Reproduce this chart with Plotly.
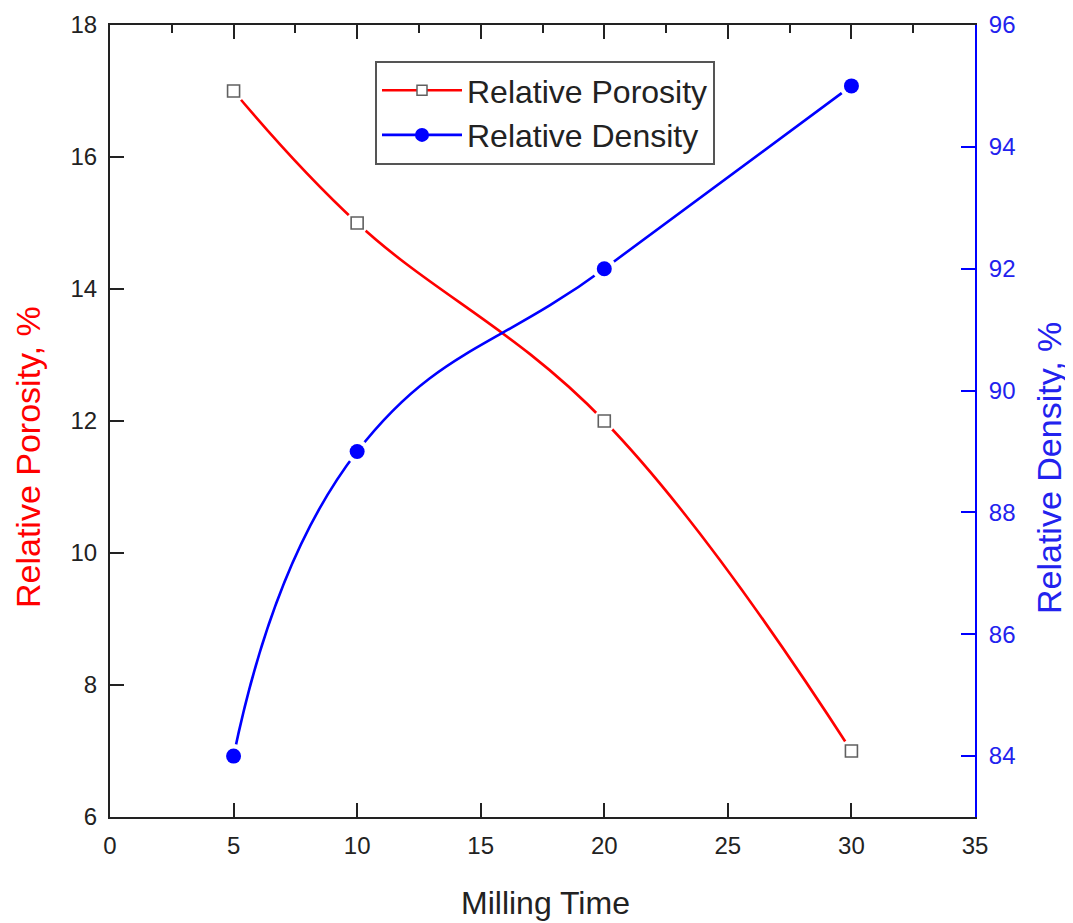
import plotly.graph_objects as go

milling_time = [5, 10, 20, 30]
relative_porosity = [17, 15, 12, 7]
relative_density = [84, 89, 92, 95]

x_ticks = [0, 5, 10, 15, 20, 25, 30, 35]
x_minor = [2.5, 7.5, 12.5, 17.5, 22.5, 27.5, 32.5]
left_ticks = [6, 8, 10, 12, 14, 16, 18]
right_ticks = [84, 86, 88, 90, 92, 94, 96]

FONT = "Liberation Sans, Arial, sans-serif"
RED = "#ff0000"
BLUE = "#0000ff"
INK = "#222222"

# page offset (browser body margin)
OFF = 8
W, H = 1073 - OFF, 923 - OFF
pl, pr, pt, pb = 110 - OFF, 975 - OFF, 25 - OFF, 817 - OFF

fig = go.Figure()

fig.add_trace(go.Scatter(x=milling_time, y=relative_porosity, mode="lines",
                         line=dict(color=RED, width=2.6, shape="spline", smoothing=1.15),
                         showlegend=False, hoverinfo="skip", yaxis="y"))
fig.add_trace(go.Scatter(x=milling_time, y=relative_density, mode="lines",
                         line=dict(color=BLUE, width=2.6, shape="spline", smoothing=1.3),
                         showlegend=False, hoverinfo="skip", yaxis="y2"))
# white gaps around markers
fig.add_trace(go.Scatter(x=milling_time, y=relative_porosity, mode="markers",
                         marker=dict(symbol="circle", size=23, color="white"),
                         showlegend=False, hoverinfo="skip", yaxis="y"))
fig.add_trace(go.Scatter(x=milling_time, y=relative_density, mode="markers",
                         marker=dict(symbol="circle", size=24, color="white"),
                         showlegend=False, hoverinfo="skip", yaxis="y2"))
# markers
fig.add_trace(go.Scatter(x=milling_time, y=relative_porosity, mode="markers",
                         marker=dict(symbol="square", size=12, color="white",
                                     line=dict(color="#606060", width=1.6)),
                         showlegend=False, yaxis="y"))
fig.add_trace(go.Scatter(x=milling_time, y=relative_density, mode="markers",
                         marker=dict(symbol="circle", size=15, color=BLUE,
                                     line=dict(width=0)),
                         showlegend=False, yaxis="y2"))
# legend entries
fig.add_trace(go.Scatter(x=[None], y=[None], mode="lines+markers", name="Relative Porosity",
                         line=dict(color=RED, width=2.6),
                         marker=dict(symbol="square", size=10, color="white",
                                     line=dict(color="#606060", width=1.5)),
                         yaxis="y"))
fig.add_trace(go.Scatter(x=[None], y=[None], mode="lines+markers", name="Relative Density",
                         line=dict(color=BLUE, width=2.6),
                         marker=dict(symbol="circle", size=14, color=BLUE),
                         yaxis="y2"))
# carrier for the top axis
fig.add_trace(go.Scatter(x=[None], y=[None], xaxis="x2", yaxis="y",
                         showlegend=False, hoverinfo="skip"))

fig.update_layout(
    width=W, height=H,
    margin=dict(l=pl, r=W - pr, t=pt, b=H - pb, autoexpand=False),
    paper_bgcolor="white", plot_bgcolor="white",
    font=dict(family=FONT, size=24, color=INK),
    xaxis=dict(range=[0, 35], tickvals=x_ticks, ticks="inside", ticklen=14,
               tickwidth=2, tickcolor=INK, showline=True, linecolor=INK,
               linewidth=2, showgrid=False, zeroline=False, automargin=False,
               ticklabelstandoff=6,
               tickfont=dict(size=24, color=INK)),
    xaxis2=dict(range=[0, 35], overlaying="x", side="top", tickvals=x_ticks,
                ticks="inside", ticklen=14, tickwidth=2, tickcolor=INK,
                showticklabels=False, showline=True, linecolor=INK, linewidth=2,
                showgrid=False, zeroline=False, automargin=False,
                minor=dict(tickvals=x_minor, ticks="inside", ticklen=8,
                           tickwidth=2, tickcolor=INK)),
    yaxis=dict(range=[6, 18], tickvals=left_ticks, ticks="inside", ticklen=14,
               tickwidth=2, tickcolor=INK, showline=True, linecolor=INK,
               linewidth=2, showgrid=False, zeroline=False, automargin=False,
               ticklabelstandoff=6,
               tickfont=dict(size=24, color=INK)),
    yaxis2=dict(range=[83, 96], tickvals=right_ticks, overlaying="y", side="right",
                ticks="inside", ticklen=14, tickwidth=2, tickcolor=BLUE,
                showline=True, linecolor=BLUE, linewidth=2, showgrid=False,
                zeroline=False, automargin=False, ticklabelstandoff=7,
                tickfont=dict(size=24, color="#2222ee")),
    legend=dict(x=(375 - 110) / 865, y=(817 - 61) / 792, xanchor="left", yanchor="top",
                bordercolor="#555555", borderwidth=2, bgcolor="white",
                font=dict(family=FONT, size=32, color=INK),
                itemwidth=80, tracegroupgap=0),
)

titles = [
    ("Relative Porosity, %", -90, 28, 457, 34, RED),
    ("Relative Density, %", -90, 1049, 468, 34, "#2222ee"),
    ("Milling Time", 0, 545, 903, 32, INK),
]
for text, ang, px, py, size, col in titles:
    fig.add_annotation(text=text, textangle=ang,
                       x=(px - OFF - pl) / (pr - pl), y=(pb - (py - OFF)) / (pb - pt),
                       xref="paper", yref="paper", showarrow=False,
                       xanchor="center", yanchor="middle",
                       font=dict(family=FONT, size=size, color=col))

fig.write_html("out.html")
